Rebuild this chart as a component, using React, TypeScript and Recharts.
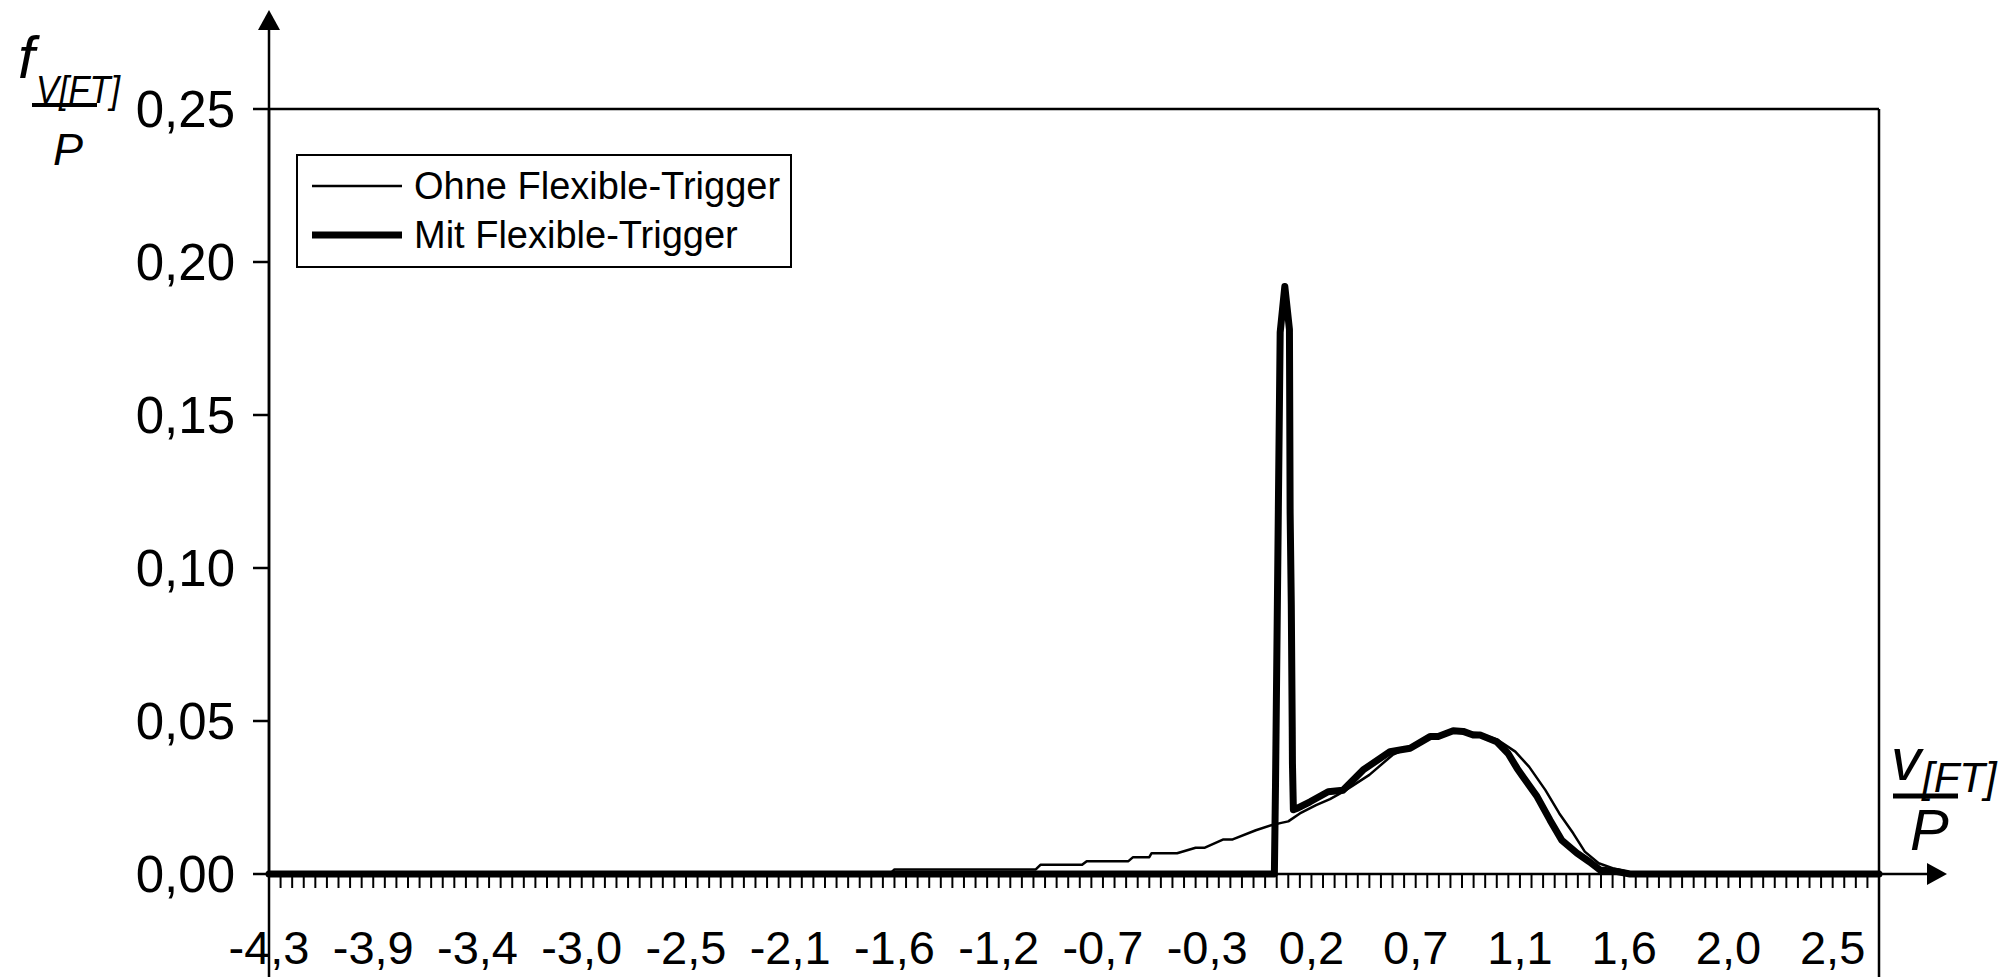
import { LineChart, Line, XAxis, YAxis, Legend, ReferenceLine } from 'recharts'

const W = 2010
const H = 977
const FONT = '"Liberation Sans", Arial, sans-serif'

// plot box (px) – used for margins and the hand-drawn arrows
const PLOT_LEFT = 269
const PLOT_TOP = 109
const PLOT_RIGHT = 1879
const PLOT_BOTTOM = 874

// x categories: v/P from -4,3 to 2,65 in steps of 0,05, label every 9th
const X_START = -4.3
const X_END = 2.65
const X_STEP = 0.05
const LABEL_EVERY = 9
const xLabels = ['-4,3', '-3,9', '-3,4', '-3,0', '-2,5', '-2,1', '-1,6', '-1,2', '-0,7', '-0,3', '0,2', '0,7', '1,1', '1,6', '2,0', '2,5']
const yTicks = [0, 0.05, 0.1, 0.15, 0.2, 0.25]

// Ohne Flexible-Trigger (thin)
const ohneX = [-4.3, -1.62, -1.6, -0.99, -0.97, -0.79, -0.77, -0.59, -0.57, -0.5, -0.49, -0.38, -0.3, -0.26, -0.18, -0.14, -0.04, 0.03, 0.07, 0.1, 0.15, 0.22, 0.28, 0.34, 0.45, 0.55, 0.65, 0.74, 0.83, 0.92, 1.0, 1.08, 1.14, 1.21, 1.27, 1.33, 1.38, 1.44, 1.5, 1.56, 1.6, 2.65]
const ohneY = [0, 0, 0.0015, 0.0015, 0.003, 0.003, 0.0042, 0.0042, 0.0055, 0.0055, 0.0068, 0.0068, 0.0086, 0.0086, 0.0113, 0.0113, 0.0143, 0.016, 0.0167, 0.0172, 0.0198, 0.0225, 0.0245, 0.027, 0.0324, 0.0389, 0.0422, 0.0452, 0.0466, 0.046, 0.044, 0.04, 0.035, 0.0274, 0.0198, 0.0133, 0.0073, 0.0035, 0.0019, 0.0008, 0, 0]

// Mit Flexible-Trigger (thick)
const mitX = [-4.3, 0.04, 0.045, 0.065, 0.085, 0.105, 0.108, 0.113, 0.117, 0.118, 0.122, 0.142, 0.194, 0.272, 0.336, 0.423, 0.539, 0.626, 0.712, 0.747, 0.812, 0.855, 0.898, 0.928, 1.0, 1.049, 1.088, 1.113, 1.174, 1.23, 1.28, 1.346, 1.4, 1.446, 1.519, 1.575, 2.65]
const mitY = [0, 0, 0.03, 0.177, 0.192, 0.178, 0.118, 0.088, 0.048, 0.036, 0.021, 0.0216, 0.0236, 0.0269, 0.0274, 0.034, 0.04, 0.0411, 0.0449, 0.0449, 0.0468, 0.0466, 0.0454, 0.0454, 0.0432, 0.0394, 0.0345, 0.0318, 0.0253, 0.0176, 0.0111, 0.0068, 0.004, 0.0013, 0.0008, 0, 0]

const ohneData = ohneX.map((x, i) => ({ x, y: ohneY[i] }))
const mitData = mitX.map((x, i) => ({ x, y: mitY[i] }))

const series = [
  { name: 'Ohne Flexible-Trigger', data: ohneData, width: 2.5 },
  { name: 'Mit Flexible-Trigger', data: mitData, width: 7 },
]

const minorTicks = Array.from(
  { length: Math.round((X_END - X_START) / X_STEP) + 1 },
  (_, i) => +(X_START + i * X_STEP).toFixed(2),
)

const fmtY = (v: number) => v.toFixed(2).replace('.', ',')

function XTick(props: any) {
  const { x, y, payload } = props
  const idx = Math.round((payload.value - X_START) / X_STEP)
  const label = idx % LABEL_EVERY === 0 ? xLabels[idx / LABEL_EVERY] : null
  return (
    <g>
      <line x1={x} x2={x} y1={y} y2={y + 14} stroke="#000" strokeWidth={2} />
      {label && (
        <text x={x} y={y + 90} textAnchor="middle" fontSize={47} fontFamily={FONT} fill="#000">
          {label}
        </text>
      )}
    </g>
  )
}

function LegendBox() {
  return (
    <svg width={496} height={114} style={{ display: 'block' }}>
      <rect x={1} y={1} width={494} height={112} fill="#fff" stroke="#000" strokeWidth={2} />
      {series.map((s, i) => (
        <g key={s.name}>
          <line x1={16} x2={106} y1={32 + i * 49} y2={32 + i * 49} stroke="#000" strokeWidth={s.width} />
          <text x={118} y={45 + i * 49} fontSize={38} fontFamily={FONT} fill="#000">{s.name}</text>
        </g>
      ))}
    </svg>
  )
}

function Overlay() {
  const ax = { stroke: '#000', strokeWidth: 2.5 }
  return (
    <svg width={W} height={H} style={{ position: 'absolute', left: 0, top: 0, pointerEvents: 'none' }}>
      {/* y arrow */}
      <line x1={PLOT_LEFT} x2={PLOT_LEFT} y1={25} y2={H} {...ax} />
      <polygon points={`${PLOT_LEFT},10 ${PLOT_LEFT - 11},30 ${PLOT_LEFT + 11},30`} fill="#000" />
      {/* x arrow */}
      <line x1={PLOT_RIGHT} x2={1930} y1={PLOT_BOTTOM} y2={PLOT_BOTTOM} {...ax} />
      <polygon points={`1947,${PLOT_BOTTOM} 1927,${PLOT_BOTTOM - 11} 1927,${PLOT_BOTTOM + 11}`} fill="#000" />
      {/* right border runs down to the bottom */}
      <line x1={PLOT_RIGHT} x2={PLOT_RIGHT} y1={PLOT_TOP} y2={H} {...ax} />

      {/* y title: f_{v[FT]} / P */}
      <g fontFamily={FONT} fontStyle="italic" fill="#000">
        <text x={18} y={78} fontSize={60}>f</text>
        <text x={36} y={103} fontSize={38} textLength={84} lengthAdjust="spacingAndGlyphs">V[FT]</text>
        <line x1={32} x2={97} y1={105} y2={105} stroke="#000" strokeWidth={4} />
        <text x={53} y={165} fontSize={45}>P</text>
      </g>
      {/* x title: v[FT] / P */}
      <g fontFamily={FONT} fontStyle="italic" fill="#000">
        <text x={1891} y={780} fontSize={60}>v</text>
        <text x={1922} y={792} fontSize={42}>[FT]</text>
        <line x1={1893} x2={1958} y1={796} y2={796} stroke="#000" strokeWidth={5} />
        <text x={1910} y={850} fontSize={58}>P</text>
      </g>
    </svg>
  )
}

export default function App() {
  return (
    <div style={{ position: 'absolute', left: 0, top: 0, width: W, height: H, background: '#fff' }}>
      <LineChart
        width={W}
        height={H}
        margin={{ top: PLOT_TOP, right: W - PLOT_RIGHT, bottom: 0, left: 0 }}
      >
        <XAxis
          type="number"
          dataKey="x"
          domain={[X_START, X_END]}
          ticks={minorTicks}
          interval={0}
          tickSize={0}
          tickMargin={0}
          tickLine={false}
          axisLine={{ stroke: '#000', strokeWidth: 2.5 }}
          tick={<XTick />}
          height={H - PLOT_BOTTOM}
        />
        <YAxis
          type="number"
          domain={[0, 0.25]}
          ticks={yTicks}
          interval={0}
          width={PLOT_LEFT}
          tickSize={16}
          tickMargin={18}
          tickFormatter={fmtY}
          axisLine={{ stroke: '#000', strokeWidth: 2.5 }}
          tickLine={{ stroke: '#000', strokeWidth: 2.5 }}
          tick={{ fontSize: 51, fill: '#000', fontFamily: FONT }}
        />
        <ReferenceLine y={0.25} stroke="#000" strokeWidth={2.5} />
        <Legend
          layout="horizontal"
          verticalAlign="middle"
          align="center"
          wrapperStyle={{ left: 296, top: 154, width: 496, height: 114 }}
          content={() => <LegendBox />}
        />
        {series.map(s => (
          <Line
            key={s.name}
            data={s.data}
            dataKey="y"
            name={s.name}
            type="linear"
            stroke="#000"
            strokeWidth={s.width}
            strokeLinejoin="round"
            strokeLinecap="round"
            dot={false}
            activeDot={false}
            isAnimationActive={false}
          />
        ))}
      </LineChart>
      <Overlay />
    </div>
  )
}
